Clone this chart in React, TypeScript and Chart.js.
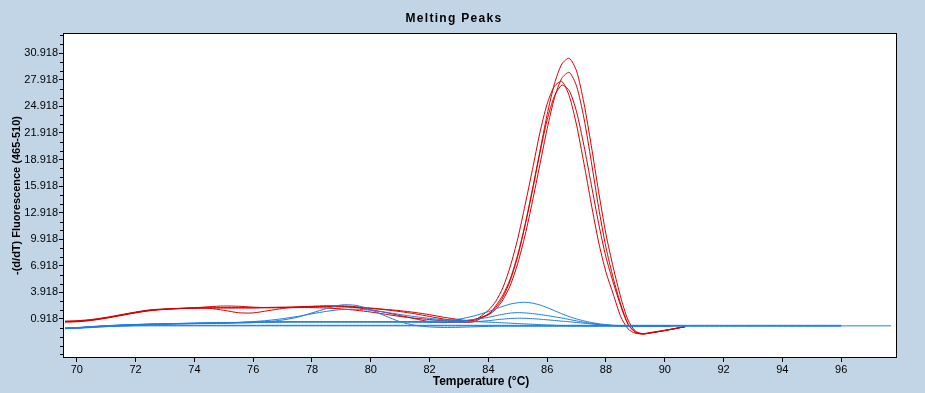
import React, { useEffect, useRef } from "react";
import { Chart, registerables } from "chart.js";

Chart.register(...registerables);

// Temperature grid (°C) shared by every curve
const temps = [69.6, 70, 70.5, 71, 71.5, 72, 72.5, 73, 73.5, 74, 74.5, 75, 75.5, 76, 76.5, 77, 77.5, 78, 78.5, 79, 79.5, 80, 80.5, 81, 81.5, 82, 82.5, 83, 83.5, 84, 84.25, 84.5, 84.75, 85, 85.25, 85.5, 85.75, 86, 86.25, 86.5, 86.75, 87, 87.25, 87.5, 87.75, 88, 88.25, 88.5, 88.75, 89, 89.25, 89.5, 90, 90.2, 90.7, 92, 94, 96, 97.7];

// Positive samples (red)
const red1 = [0.6, 0.65, 0.8, 1.05, 1.35, 1.65, 1.9, 2.02, 2.1, 2.15, 2.18, 2.2, 2.2, 2.2, 2.22, 2.25, 2.28, 2.3, 2.3, 2.28, 2.22, 2.1, 1.95, 1.75, 1.5, 1.2, 0.9, 0.72, 0.8, 1.4, 2.4, 3.65, 5.5, 8.2, 11.6, 15.6, 19.8, 24.0, 27.5, 29.7, 30.35, 28.9, 25.3, 20.5, 15.3, 10.5, 6.7, 3.4, 0.8, -0.45, -0.75, -0.68, -0.4, -0.28, 0.05, null, null, null, null];
const red2 = [0.68, 0.72, 0.86, 1.1, 1.4, 1.7, 1.95, 2.05, 2.12, 2.18, 2.12, 1.9, 1.62, 1.6, 1.85, 2.1, 2.25, 2.35, 2.4, 2.35, 2.2, 1.95, 1.65, 1.3, 0.95, 0.6, 0.5, 0.6, 0.85, 1.4, 2.0, 3.1, 4.75, 7.2, 10.4, 14.2, 18.3, 22.4, 25.9, 28.1, 28.75, 27.2, 23.6, 18.7, 13.5, 9.0, 5.5, 2.6, 0.4, -0.55, -0.78, -0.66, -0.38, -0.26, 0.05, null, null, null, null];
const red3 = [0.62, 0.66, 0.8, 1.05, 1.35, 1.65, 1.9, 2.02, 2.1, 2.18, 2.3, 2.38, 2.35, 2.25, 2.2, 2.2, 2.25, 2.3, 2.35, 2.4, 2.3, 2.15, 2.0, 1.85, 1.65, 1.4, 1.1, 0.85, 0.75, 1.9, 2.9, 4.5, 6.9, 10.0, 13.8, 17.8, 21.9, 25.2, 27.2, 27.73, 26.1, 22.8, 18.5, 13.9, 9.6, 6.2, 3.7, 1.2, -0.2, -0.7, -0.75, -0.62, -0.36, -0.24, 0.05, null, null, null, null];
const red4 = [0.56, 0.6, 0.75, 1.0, 1.3, 1.6, 1.85, 2.0, 2.08, 2.12, 2.15, 2.15, 2.15, 2.15, 2.18, 2.2, 2.2, 2.2, 2.15, 2.05, 1.9, 1.7, 1.45, 1.2, 1.0, 0.85, 0.7, 0.55, 0.6, 1.5, 2.2, 3.4, 5.3, 8.0, 11.5, 15.4, 19.6, 23.4, 26.1, 27.3, 26.7, 24.3, 20.5, 16.1, 11.7, 7.9, 5.0, 2.4, 0.3, -0.6, -0.78, -0.66, -0.38, -0.26, 0.05, null, null, null, null];

// Negative samples / controls (blue)
const blue1 = [-0.15, -0.1, 0.0, 0.1, 0.18, 0.25, 0.3, 0.33, 0.36, 0.38, 0.4, 0.42, 0.45, 0.5, 0.6, 0.8, 1.1, 1.6, 2.1, 2.5, 2.45, 1.95, 1.25, 0.6, 0.2, 0.02, -0.04, -0.02, 0.03, 0.08, 0.1, 0.1, 0.1, 0.1, 0.1, 0.1, 0.1, 0.1, 0.1, 0.1, 0.1, 0.1, 0.1, 0.1, 0.1, 0.1, 0.1, 0.1, 0.1, 0.1, 0.1, 0.1, 0.1, 0.1, null, null, null, null, null];
const blue2 = [-0.12, -0.08, 0.02, 0.12, 0.2, 0.27, 0.32, 0.35, 0.38, 0.4, 0.42, 0.45, 0.52, 0.62, 0.75, 0.95, 1.2, 1.5, 1.78, 1.98, 2.02, 1.9, 1.68, 1.42, 1.18, 0.98, 0.82, 0.7, 0.62, 0.56, 0.52, 0.48, 0.44, 0.4, 0.36, 0.32, 0.28, 0.24, 0.2, 0.17, 0.15, 0.15, 0.15, 0.15, 0.15, 0.15, 0.15, 0.15, 0.15, 0.15, 0.15, 0.15, 0.15, 0.15, null, null, null, null, null];
const blue3 = [-0.15, -0.1, 0.02, 0.12, 0.2, 0.26, 0.3, 0.34, 0.38, 0.42, 0.45, 0.48, 0.52, 0.55, 0.57, 0.58, 0.6, 0.6, 0.6, 0.6, 0.6, 0.6, 0.6, 0.62, 0.64, 0.67, 0.75, 0.9, 1.25, 1.75, 2.05, 2.35, 2.6, 2.75, 2.8, 2.7, 2.5, 2.2, 1.85, 1.5, 1.18, 0.92, 0.7, 0.52, 0.38, 0.28, 0.2, 0.16, 0.13, 0.1, 0.1, 0.1, 0.1, 0.1, 0.1, 0.1, 0.1, 0.1, null];
const blue4 = [-0.12, -0.07, 0.05, 0.15, 0.22, 0.28, 0.33, 0.36, 0.4, 0.44, 0.47, 0.5, 0.53, 0.56, 0.58, 0.6, 0.6, 0.6, 0.6, 0.6, 0.6, 0.6, 0.6, 0.6, 0.6, 0.6, 0.62, 0.7, 0.85, 1.1, 1.28, 1.45, 1.58, 1.63, 1.6, 1.52, 1.42, 1.3, 1.16, 1.02, 0.86, 0.7, 0.55, 0.42, 0.3, 0.22, 0.17, 0.14, 0.13, 0.13, 0.13, 0.13, 0.13, 0.13, null, null, null, null, null];
const blue5 = [-0.1, -0.05, 0.06, 0.16, 0.24, 0.3, 0.35, 0.38, 0.42, 0.45, 0.48, 0.5, 0.52, 0.54, 0.55, 0.56, 0.57, 0.57, 0.57, 0.57, 0.57, 0.57, 0.56, 0.55, 0.54, 0.53, 0.53, 0.55, 0.6, 0.72, 0.82, 0.9, 0.97, 1.0, 0.99, 0.95, 0.89, 0.82, 0.75, 0.67, 0.6, 0.52, 0.44, 0.36, 0.28, 0.22, 0.17, 0.14, 0.13, 0.13, 0.13, 0.13, 0.13, 0.13, null, null, null, null, null];
const blue6 = [-0.15, -0.1, 0.0, 0.06, 0.1, 0.13, 0.14, 0.14, 0.14, 0.14, 0.14, 0.14, 0.14, 0.14, 0.14, 0.14, 0.14, 0.14, 0.14, 0.14, 0.14, 0.14, 0.14, 0.14, 0.14, 0.14, 0.14, 0.14, 0.14, 0.14, 0.14, 0.14, 0.14, 0.14, 0.14, 0.14, 0.14, 0.14, 0.14, 0.14, 0.14, 0.14, 0.14, 0.14, 0.14, 0.14, 0.14, 0.14, 0.14, 0.14, 0.14, 0.14, 0.14, 0.14, 0.14, 0.14, 0.14, 0.14, 0.14];
const blue7 = [-0.18, -0.14, -0.05, 0.05, 0.12, 0.18, 0.2, 0.2, 0.2, 0.2, 0.2, 0.2, 0.2, 0.2, 0.2, 0.2, 0.2, 0.2, 0.2, 0.2, 0.2, 0.2, 0.2, 0.2, 0.2, 0.2, 0.2, 0.2, 0.2, 0.2, 0.2, 0.2, 0.2, 0.2, 0.2, 0.2, 0.2, 0.2, 0.2, 0.2, 0.2, 0.2, 0.2, 0.2, 0.2, 0.2, 0.2, 0.2, 0.2, 0.2, 0.2, 0.2, 0.2, 0.2, 0.2, 0.2, 0.2, 0.2, null];

const redSeries = [red1, red2, red3, red4];
const blueSeries = [blue1, blue2, blue3, blue4, blue5, blue6, blue7];

const xTicks = [70, 72, 74, 76, 78, 80, 82, 84, 86, 88, 90, 92, 94, 96];
const yTicks = [0.918, 3.918, 6.918, 9.918, 12.918, 15.918, 18.918, 21.918, 24.918, 27.918, 30.918];
const yMinorTicks = [-3.082, -2.082, -1.082, -0.082, 1.918, 2.918, 4.918, 5.918, 7.918, 8.918, 10.918, 11.918, 13.918, 14.918, 16.918, 17.918, 19.918, 20.918, 22.918, 23.918, 25.918, 26.918, 28.918, 29.918, 31.918, 32.918];

const TITLE = "Melting Peaks";
const X_TITLE = "Temperature (°C)";
const Y_TITLE = "-(d/dT) Fluorescence (465-510)";

const RED = "#d80000";
const BLUE = "#1f7ddf";
const BG = "#c2d5e6";
const FONT = "'Liberation Sans', Arial, sans-serif";

export default function App() {
  const ref = useRef<HTMLCanvasElement | null>(null);

  useEffect(() => {
    if (!ref.current) return;
    const mk = (vals: (number | null)[], color: string) => ({
      data: temps.map((t, i) => ({ x: t, y: vals[i] })),
      borderColor: color,
      backgroundColor: color,
      borderWidth: 1,
      pointRadius: 0,
      tension: 0.25,
      fill: false,
      spanGaps: false,
    });

    const decor = {
      id: "decor",
      beforeDraw(chart: any) {
        const { ctx, chartArea: a } = chart;
        ctx.save();
        ctx.fillStyle = BG;
        ctx.fillRect(0, 0, chart.width, chart.height);
        ctx.fillStyle = "#ffffff";
        ctx.fillRect(a.left, a.top, a.right - a.left, a.bottom - a.top);
        ctx.restore();
      },
      afterDraw(chart: any) {
        const { ctx, chartArea: a } = chart;
        const ys = chart.scales.y;
        ctx.save();
        ctx.strokeStyle = "#000";
        ctx.lineWidth = 1;
        ctx.beginPath();
        for (const v of yMinorTicks) {
          const py = Math.round(ys.getPixelForValue(v)) + 0.5;
          if (py < a.top || py > a.bottom) continue;
          ctx.moveTo(a.left - 3, py);
          ctx.lineTo(a.left, py);
        }
        ctx.stroke();
        ctx.strokeRect(a.left + 0.5, a.top + 0.5, a.right - a.left - 1, a.bottom - a.top - 1);
        ctx.fillStyle = "#000";
        ctx.textAlign = "center";
        ctx.textBaseline = "middle";
        ctx.font = `bold 12px ${FONT}`;
        (ctx as any).letterSpacing = "1.3px";
        ctx.fillText(TITLE, 454, 19);
        (ctx as any).letterSpacing = "0px";
        ctx.font = `bold 12px ${FONT}`;
        ctx.fillText(X_TITLE, (a.left + a.right) / 2 + 1, 382);
        ctx.restore();
      },
    };

    const chart = new Chart(ref.current, {
      type: "line",
      data: {
        datasets: [
          ...blueSeries.map((s) => mk(s, BLUE)),
          ...redSeries.map((s) => mk(s, RED)),
        ],
      },
      options: {
        animation: false,
        responsive: false,
        devicePixelRatio: 1,
        layout: { padding: { top: 33, right: 28, left: 0, bottom: 0 } },
        plugins: {
          legend: { display: false },
          title: { display: false },
          tooltip: { enabled: false },
        },
        scales: {
          x: {
            type: "linear",
            min: 69.53,
            max: 97.9,
            afterBuildTicks: (s: any) => {
              s.ticks = xTicks.map((v) => ({ value: v }));
            },
            afterFit: (s: any) => {
              s.height = 35;
            },
            ticks: {
              autoSkip: false,
              maxRotation: 0,
              padding: 1,
              color: "#000",
              font: { family: FONT, size: 11 },
              callback: (v: any) => String(v),
            },
            grid: { drawOnChartArea: false, drawTicks: true, tickLength: 4, color: "#000" },
            border: { display: false },
          },
          y: {
            type: "linear",
            min: -3.49,
            max: 33.2,
            afterBuildTicks: (s: any) => {
              s.ticks = yTicks.map((v) => ({ value: v }));
            },
            afterFit: (s: any) => {
              s.width = 63;
            },
            ticks: {
              autoSkip: false,
              padding: 1,
              color: "#000",
              font: { family: FONT, size: 11 },
              callback: (v: any) => Number(v).toFixed(3),
            },
            grid: { drawOnChartArea: false, drawTicks: true, tickLength: 4, color: "#000" },
            border: { display: false },
            title: {
              display: true,
              text: Y_TITLE,
              color: "#000",
              font: { family: FONT, size: 11, weight: "bold" },
              padding: { top: 10, bottom: 0 },
            },
          },
        },
      },
      plugins: [decor],
    } as any);

    return () => chart.destroy();
  }, []);

  return (
    <div style={{ position: "fixed", left: 0, top: 0, width: 925, height: 393, background: BG }}>
      <canvas ref={ref} width={925} height={393} style={{ display: "block", width: 925, height: 393 }} />
    </div>
  );
}
